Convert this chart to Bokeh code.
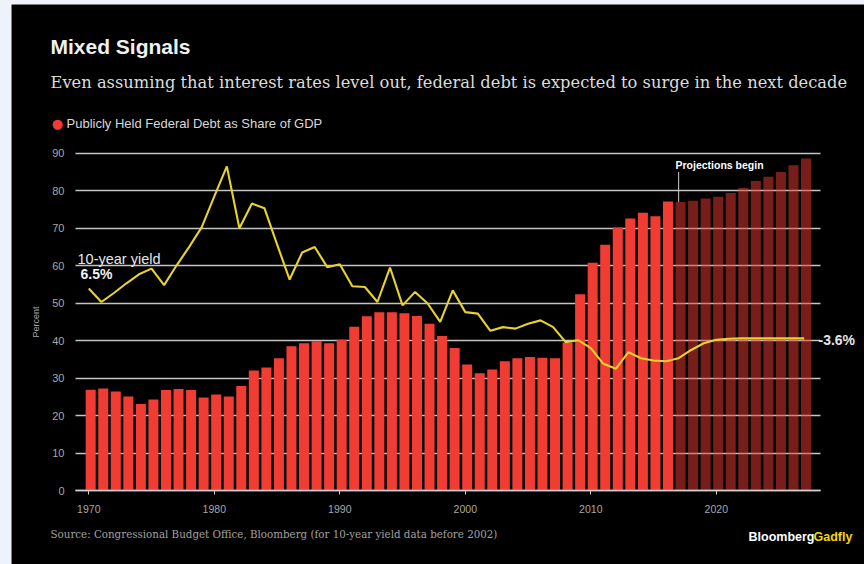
from bokeh.plotting import figure
from bokeh.models import Range1d, FixedTicker, Label, ColumnDataSource, Spacer
from bokeh.layouts import column, row
from bokeh.embed import file_html
from bokeh.resources import INLINE

# ---------------- data ----------------
years = list(range(1970, 2028))
debt_share = [26.9, 27.2, 26.4, 25.1, 23.1, 24.3, 26.8, 27.1, 26.8, 24.8,
              25.6, 25.1, 27.9, 32.0, 32.8, 35.3, 38.5, 39.3, 39.8, 39.3,
              40.2, 43.7, 46.5, 47.6, 47.6, 47.3, 46.6, 44.5, 41.2, 38.0,
              33.6, 31.3, 32.3, 34.5, 35.3, 35.6, 35.4, 35.3, 39.5, 52.4,
              60.8, 65.6, 70.2, 72.6, 74.1, 73.2, 77.1,
              77.0, 77.3, 77.9, 78.4, 79.4, 80.8, 82.6, 83.7, 85.0, 86.8, 88.6]
# 10-year yield as drawn on the chart's percent scale
yield_line = [53.9, 50.3, 52.7, 55.3, 57.7, 59.2, 54.8, 60.1, 65.0, 70.3,
              78.5, 86.5, 70.0, 76.6, 75.3, 65.7, 56.3, 63.5, 65.0, 59.6,
              60.4, 54.5, 54.3, 50.3, 59.5, 49.4, 53.0, 49.9, 45.0, 53.4,
              47.6, 47.2, 42.6, 43.6, 43.2, 44.5, 45.4, 43.6, 39.6, 40.1,
              38.0, 33.8, 32.5, 36.9, 35.3, 34.7, 34.5,
              35.3, 37.5, 39.3, 40.2, 40.5, 40.6, 40.6, 40.6, 40.6, 40.6, 40.6]
proj_start = 2017
y_ticks = [0, 10, 20, 30, 40, 50, 60, 70, 80, 90]
x_ticks = [1970, 1980, 1990, 2000, 2010, 2020]

title = "Mixed Signals"
subtitle = ("Even assuming that interest rates level out, federal debt is "
            "expected to surge in the next decade")
legend_text = "Publicly Held Federal Debt as Share of GDP"
source_text = ("Source: Congressional Budget Office, Bloomberg "
               "(for 10-year yield data before 2002)")

# ---------------- layout (page pixels) ----------------
PAGE_W, PAGE_H = 864, 564
LEFT_PAD, TOP_PAD = 11, 4
W, H = PAGE_W - LEFT_PAD, PAGE_H - TOP_PAD
PX_YEAR = 12.55                  # pixels per year
X_1970 = 88.3                    # page x of 1970
Y_ZERO = 490                     # page y of 0 %
PX_UNIT = 341 / 91               # pixels per percentage point


def dx(xa):
    return 1970 + (xa - X_1970) / PX_YEAR


def dy(ya):
    return (Y_ZERO - ya) / PX_UNIT


AXIS_X = dx(75)      # where the value axis sits
GRID_END = dx(820)   # where the grid lines stop

RED = "#f03c33"
YELLOW = "#e8d22c"
GREY = "#a8a8a8"
SANS = "Liberation Sans"
SERIF = "DejaVu Serif"
BG = "#eef3fb"

p = figure(width=W, height=H,
           x_range=Range1d(dx(LEFT_PAD), dx(PAGE_W)),
           y_range=Range1d(dy(PAGE_H), dy(TOP_PAD)),
           output_backend="svg", toolbar_location=None, min_border=0,
           background_fill_color="black", border_fill_color="black",
           outline_line_color=None)

hist = [i for i, y in enumerate(years) if y < proj_start]
proj = [i for i, y in enumerate(years) if y >= proj_start]
src_h = ColumnDataSource(dict(x=[years[i] + 0.15 for i in hist],
                              top=[debt_share[i] for i in hist]))
src_p = ColumnDataSource(dict(x=[years[i] + 0.15 for i in proj],
                              top=[debt_share[i] for i in proj]))

# grid
p.xgrid.grid_line_color = None
p.ygrid.grid_line_color = "#c4c4c4"
p.ygrid.grid_line_width = 1.4
p.ygrid.ticker = FixedTicker(ticks=y_ticks)
p.ygrid.cross_bounds = (AXIS_X, GRID_END)

p.vbar(x="x", top="top", bottom=0, width=0.8, source=src_h,
       fill_color=RED, line_color=None)
p.vbar(x="x", top="top", bottom=0, width=0.8, source=src_p,
       fill_color=RED, fill_alpha=0.5, line_color=None)

p.line(years, yield_line, line_color=YELLOW, line_width=2.1)

i17 = years.index(proj_start)
p.segment(x0=[proj_start], y0=[debt_share[i17]], x1=[proj_start], y1=[85.0],
          line_color="#cfcfcf", line_width=1)

# value axis, fixed at the left edge of the plotting area
p.yaxis.fixed_location = AXIS_X
p.yaxis.bounds = (0, 90)
p.yaxis.ticker = FixedTicker(ticks=y_ticks)
p.yaxis.axis_line_color = None
p.yaxis.major_tick_line_color = None
p.yaxis.minor_tick_line_color = None
p.yaxis.major_label_standoff = 5
p.yaxis.major_label_text_color = GREY
p.yaxis.major_label_text_font = SANS
p.yaxis.major_label_text_font_size = "11px"
p.yaxis.axis_label = "Percent"
p.yaxis.axis_label_text_color = GREY
p.yaxis.axis_label_text_font = SANS
p.yaxis.axis_label_text_font_size = "9px"
p.yaxis.axis_label_text_font_style = "normal"
p.yaxis.axis_label_standoff = 8

# time axis, fixed at zero
p.xaxis.fixed_location = 0
p.xaxis.ticker = FixedTicker(ticks=x_ticks)
p.xaxis.bounds = (AXIS_X, GRID_END)
p.xaxis.axis_line_color = "#d0d0d0"
p.xaxis.axis_line_width = 1.4
p.xaxis.major_tick_line_color = "#d0d0d0"
p.xaxis.major_tick_in = 0
p.xaxis.major_tick_out = 4
p.xaxis.minor_tick_line_color = None
p.xaxis.major_label_standoff = 10
p.xaxis.major_label_text_color = GREY
p.xaxis.major_label_text_font = SANS
p.xaxis.major_label_text_font_size = "10.5px"


def lab(xa, ya, text, size, color="#ffffff", font=SANS, style="normal",
        align="left", baseline="middle"):
    p.add_layout(Label(x=dx(xa), y=dy(ya), text=text, text_font=font,
                       text_font_size=size, text_color=color,
                       text_font_style=style, text_align=align,
                       text_baseline=baseline))


lab(77, 258, "10-year yield", "14.5px", "#e6e6e6")
lab(80, 273, "6.5%", "14px", "#f2f2f2", style="bold")
lab(818, 339, "-3.6%", "14px", "#e6e6e6", style="bold")
lab(675, 164, "Projections begin", "10.5px", "#ffffff", style="bold")

lab(50, 46, title, "21px", "#f0f0f0", style="bold")
lab(50, 82, subtitle, "16.3px", "#dcdcdc", font=SERIF)
lab(57, 123, "\u25cf", "13px", RED, font="DejaVu Sans", align="center")
lab(66, 123, legend_text, "13px", "#d8d8d8")
lab(50, 533, source_text, "10.3px", "#a0a0a0", font=SERIF)
lab(748, 536, "Bloomberg", "12.5px", "#ffffff", style="bold")
lab(813, 536, "Gadfly", "12.5px", "#f5d800", style="bold")

layout = row(
    Spacer(width=LEFT_PAD, height=PAGE_H, styles={"background-color": BG}),
    column(Spacer(width=W, height=TOP_PAD, styles={"background-color": BG}),
           p, spacing=0),
    spacing=0)

open("out.html", "w").write(file_html(layout, INLINE))
